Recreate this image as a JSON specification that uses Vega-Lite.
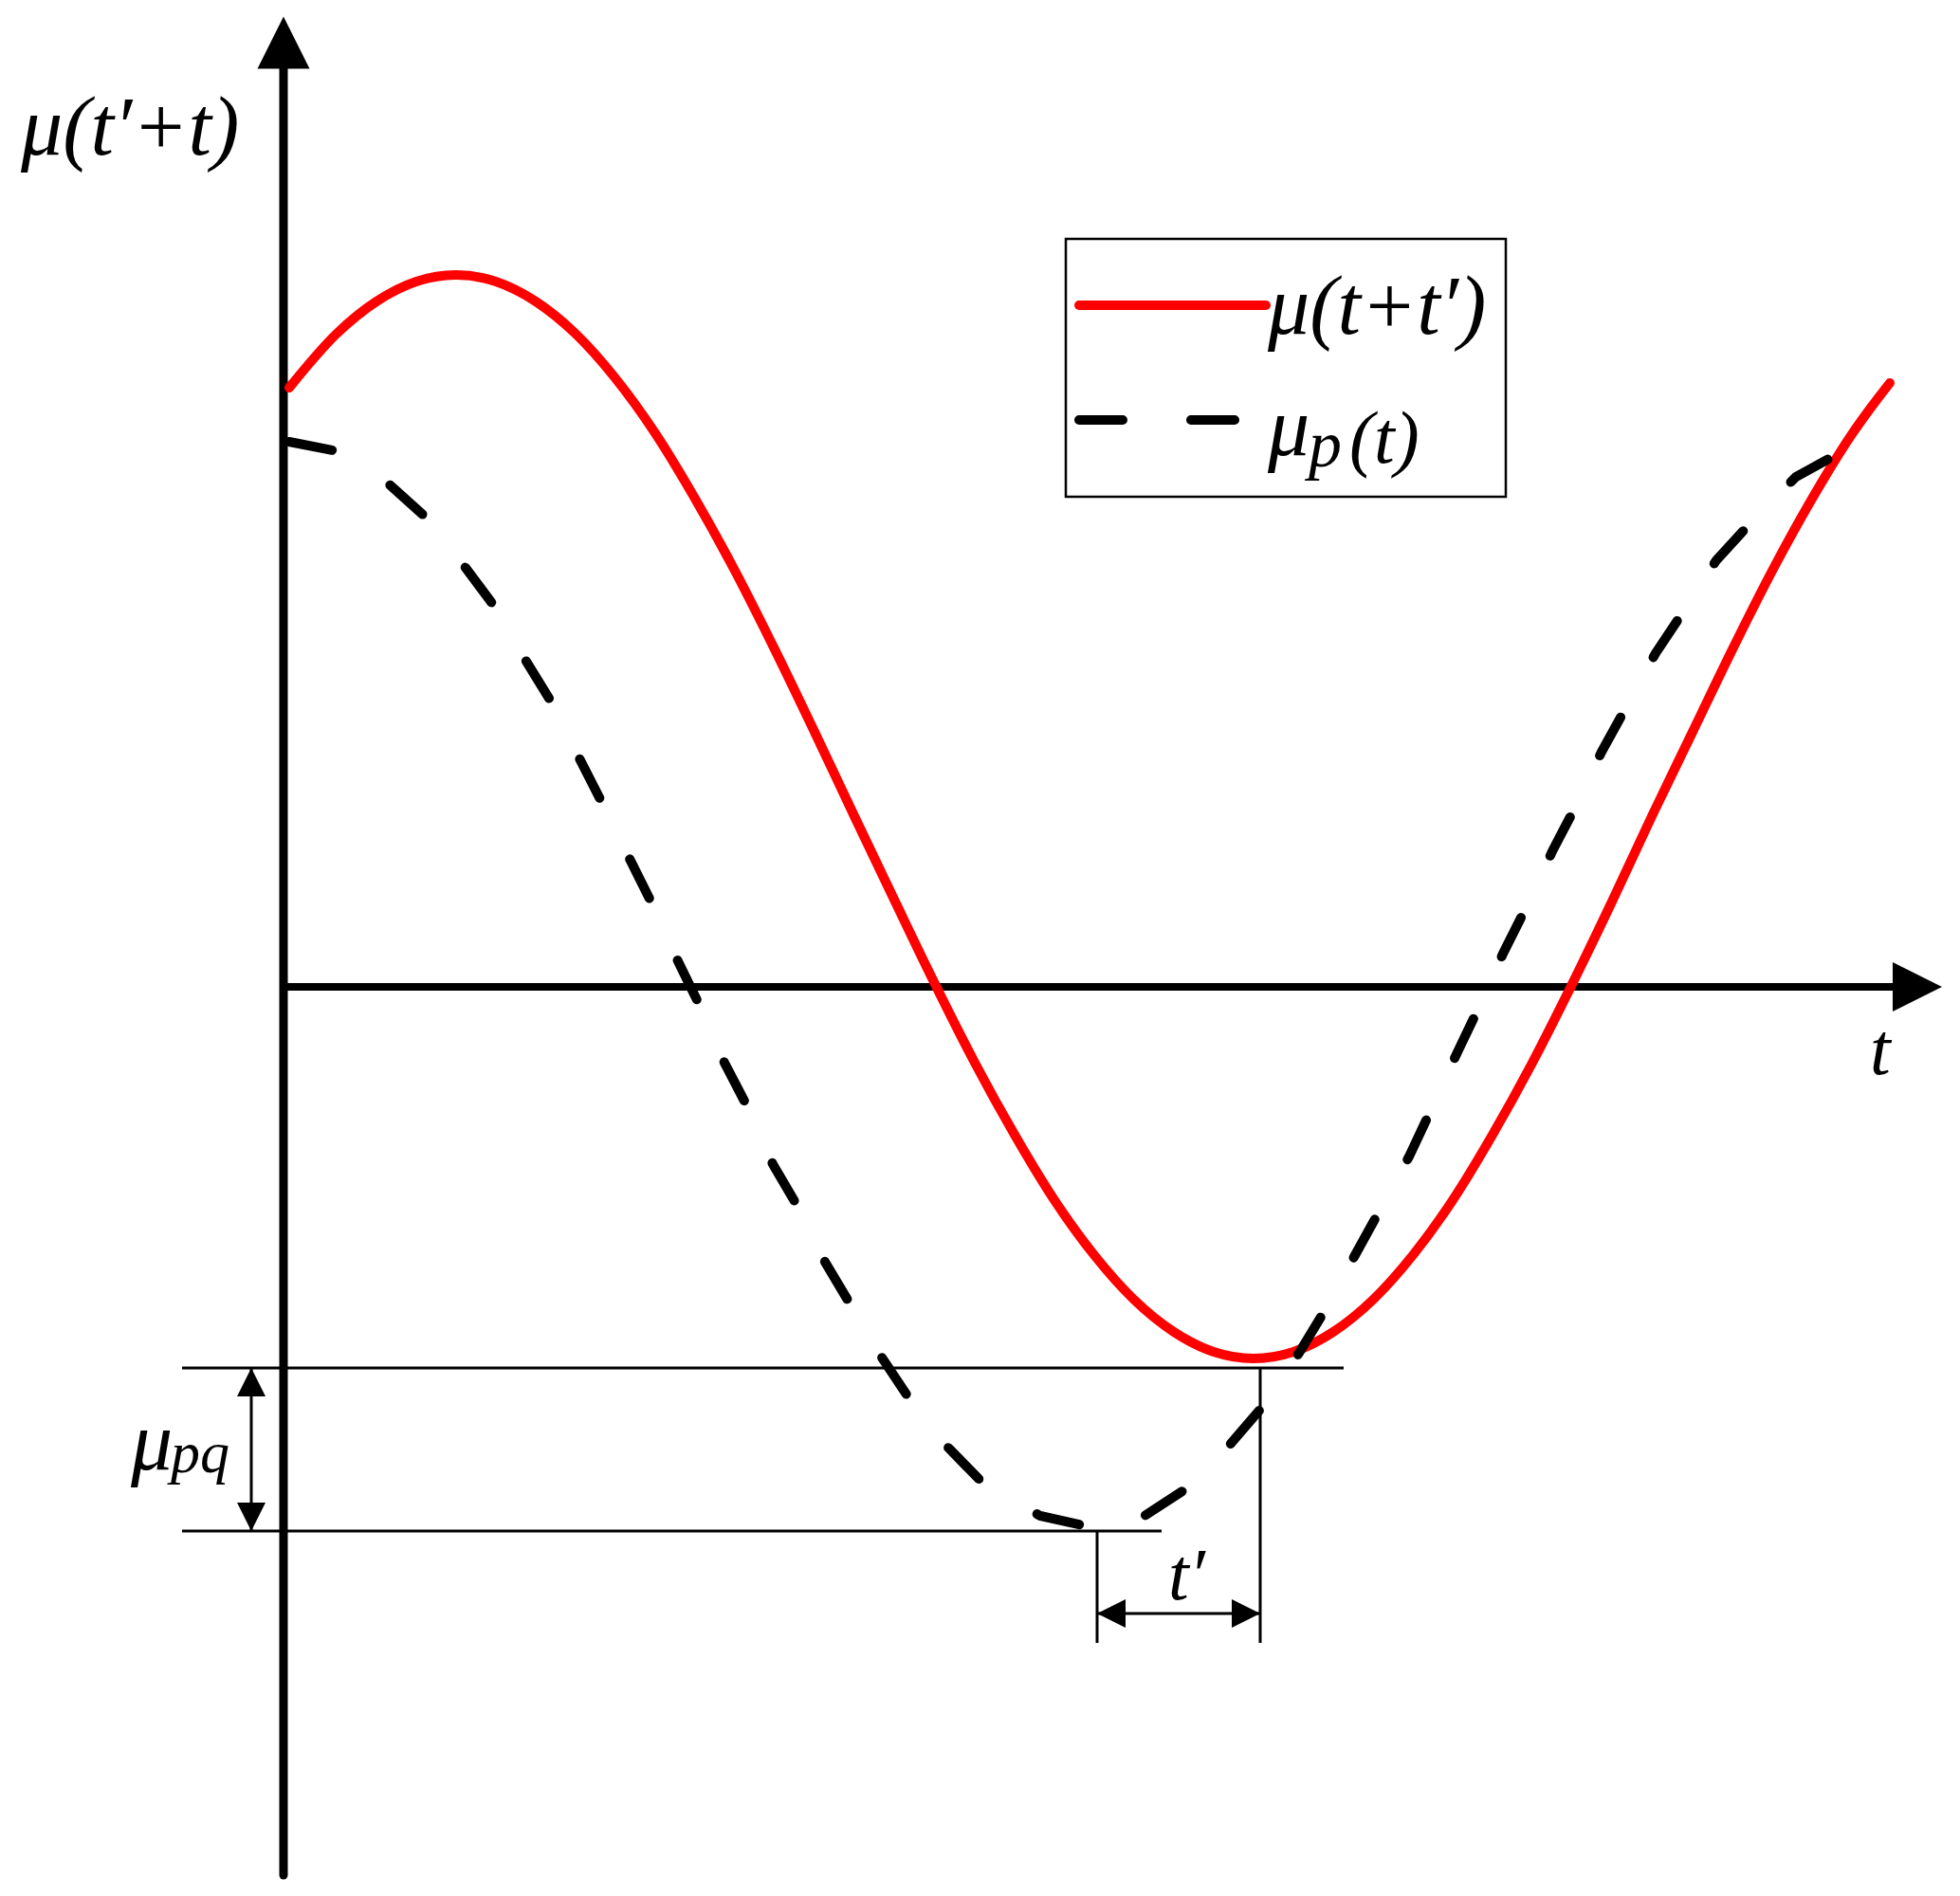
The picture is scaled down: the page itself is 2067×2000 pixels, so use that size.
{
  "$schema": "https://vega.github.io/schema/vega-lite/v6.json",
  "width": 2067,
  "height": 2000,
  "autosize": {"type": "fit", "contains": "padding"},
  "padding": 0,
  "background": "white",
  "config": {"view": {"stroke": null}},
  "datasets": {
    "red": [
      {"t": 6, "mu": 632}, {"t": 56, "mu": 689}, {"t": 98, "mu": 723}, {"t": 140, "mu": 744},
      {"t": 182, "mu": 751}, {"t": 224, "mu": 744}, {"t": 266, "mu": 723}, {"t": 308, "mu": 689},
      {"t": 350, "mu": 642}, {"t": 392, "mu": 584}, {"t": 434, "mu": 515}, {"t": 476, "mu": 439},
      {"t": 518, "mu": 356}, {"t": 560, "mu": 269}, {"t": 602, "mu": 180}, {"t": 645, "mu": 90},
      {"t": 687, "mu": 3}, {"t": 729, "mu": -80}, {"t": 771, "mu": -156}, {"t": 813, "mu": -225},
      {"t": 855, "mu": -283}, {"t": 897, "mu": -330}, {"t": 939, "mu": -364}, {"t": 981, "mu": -385},
      {"t": 1023, "mu": -392}, {"t": 1065, "mu": -385}, {"t": 1107, "mu": -364}, {"t": 1149, "mu": -330},
      {"t": 1191, "mu": -283}, {"t": 1233, "mu": -225}, {"t": 1275, "mu": -156}, {"t": 1317, "mu": -80},
      {"t": 1359, "mu": 3}, {"t": 1401, "mu": 90}, {"t": 1443, "mu": 180}, {"t": 1486, "mu": 269},
      {"t": 1528, "mu": 356}, {"t": 1570, "mu": 439}, {"t": 1612, "mu": 515}, {"t": 1654, "mu": 583},
      {"t": 1674, "mu": 611}, {"t": 1694, "mu": 637}
    ],
    "dashed": [
      {"t": 6, "mu": 575}, {"t": 57, "mu": 565}, {"t": 106, "mu": 535}, {"t": 147, "mu": 498},
      {"t": 189, "mu": 446}, {"t": 222, "mu": 402}, {"t": 255, "mu": 345}, {"t": 284, "mu": 298},
      {"t": 312, "mu": 241}, {"t": 337, "mu": 192}, {"t": 365, "mu": 135}, {"t": 390, "mu": 85},
      {"t": 416, "mu": 27}, {"t": 440, "mu": -22}, {"t": 465, "mu": -80}, {"t": 490, "mu": -128},
      {"t": 516, "mu": -187}, {"t": 543, "mu": -233}, {"t": 571, "mu": -290}, {"t": 599, "mu": -337},
      {"t": 631, "mu": -391}, {"t": 661, "mu": -436}, {"t": 700, "mu": -485}, {"t": 738, "mu": -524},
      {"t": 798, "mu": -558}, {"t": 856, "mu": -571}, {"t": 908, "mu": -558}, {"t": 951, "mu": -530},
      {"t": 997, "mu": -484}, {"t": 1035, "mu": -440}, {"t": 1071, "mu": -386}, {"t": 1099, "mu": -340},
      {"t": 1130, "mu": -283}, {"t": 1157, "mu": -234}, {"t": 1187, "mu": -179}, {"t": 1210, "mu": -130},
      {"t": 1237, "mu": -71}, {"t": 1260, "mu": -23}, {"t": 1286, "mu": 35}, {"t": 1311, "mu": 85},
      {"t": 1338, "mu": 143}, {"t": 1362, "mu": 189}, {"t": 1390, "mu": 248}, {"t": 1416, "mu": 295},
      {"t": 1447, "mu": 352}, {"t": 1475, "mu": 394}, {"t": 1511, "mu": 450}, {"t": 1544, "mu": 486},
      {"t": 1595, "mu": 538}, {"t": 1644, "mu": 565}
    ],
    "hthin": [
      {"t": -107, "t2": 1118, "mu": -402},
      {"t": -107, "t2": 926, "mu": -574},
      {"t": 858, "t2": 1030, "mu": -661}
    ],
    "vthin": [
      {"t": 858, "mu": -574, "mu2": -692},
      {"t": 1030, "mu": -402, "mu2": -692},
      {"t": -34, "mu": -402, "mu2": -574}
    ],
    "vaxis": [{"t": 0, "mu": 969, "mu2": -937}],
    "haxis": [{"t": 0, "t2": 1698, "mu": 0}],
    "arrowUp": [{"t": 0, "mu": 996}],
    "arrowRight": [{"t": 1723, "mu": 0}],
    "smallLeft": [{"t": 873, "mu": -661}],
    "smallRight": [{"t": 1015, "mu": -661}],
    "smallUp": [{"t": -34, "mu": -417}],
    "smallDown": [{"t": -34, "mu": -559}],
    "legendBox": [{"t": 825, "t2": 1289, "mu": 789, "mu2": 517}],
    "legendRed": [{"t": 839, "t2": 1036, "mu": 719}],
    "legendDash": [{"t": 839, "t2": 1003, "mu": 598}],
    "bigText": [
      {"t": -277, "mu": 878, "label": "μ(t′+t)"},
      {"t": 1038, "mu": 689, "label": "μ(t+t′)"},
      {"t": 1038, "mu": 561, "label": "μ"},
      {"t": -161, "mu": -509, "label": "μ"}
    ],
    "midText": [
      {"t": 1124, "mu": 553, "label": "(t)"},
      {"t": 933, "mu": -646, "label": "t′"},
      {"t": 1673, "mu": -92, "label": "t"}
    ],
    "subText": [
      {"t": -119, "mu": -512, "label": "pq"}
    ],
    "subTextLegend": [
      {"t": 1081, "mu": 549, "label": "p"}
    ]
  },
  "encoding": {
    "x": {"field": "t", "type": "quantitative", "scale": {"domain": [-299, 1768], "nice": false, "zero": false}, "axis": null},
    "y": {"field": "mu", "type": "quantitative", "scale": {"domain": [-959, 1041], "nice": false, "zero": false}, "axis": null}
  },
  "layer": [
    {"data": {"name": "hthin"}, "mark": {"type": "rule", "color": "black", "strokeWidth": 3}, "encoding": {"x2": {"field": "t2"}}},
    {"data": {"name": "vthin"}, "mark": {"type": "rule", "color": "black", "strokeWidth": 3}, "encoding": {"y2": {"field": "mu2"}}},
    {"data": {"name": "vaxis"}, "mark": {"type": "rule", "color": "black", "strokeWidth": 9, "strokeCap": "round"}, "encoding": {"y2": {"field": "mu2"}}},
    {"data": {"name": "haxis"}, "mark": {"type": "rule", "color": "black", "strokeWidth": 8}, "encoding": {"x2": {"field": "t2"}}},
    {"data": {"name": "arrowUp"}, "mark": {"type": "point", "shape": "M0,-1L1,1L-1,1Z", "size": 3025, "filled": true, "color": "black", "opacity": 1, "strokeWidth": 0}},
    {"data": {"name": "arrowRight"}, "mark": {"type": "point", "shape": "M1,0L-1,-1L-1,1Z", "size": 2704, "filled": true, "color": "black", "opacity": 1, "strokeWidth": 0}},
    {"data": {"name": "smallLeft"}, "mark": {"type": "point", "shape": "M-1,0L1,-1L1,1Z", "size": 900, "filled": true, "color": "black", "opacity": 1, "strokeWidth": 0}},
    {"data": {"name": "smallRight"}, "mark": {"type": "point", "shape": "M1,0L-1,-1L-1,1Z", "size": 900, "filled": true, "color": "black", "opacity": 1, "strokeWidth": 0}},
    {"data": {"name": "smallUp"}, "mark": {"type": "point", "shape": "M0,-1L1,1L-1,1Z", "size": 900, "filled": true, "color": "black", "opacity": 1, "strokeWidth": 0}},
    {"data": {"name": "smallDown"}, "mark": {"type": "point", "shape": "M0,1L1,-1L-1,-1Z", "size": 900, "filled": true, "color": "black", "opacity": 1, "strokeWidth": 0}},
    {"data": {"name": "red"}, "mark": {"type": "line", "color": "#ff0000", "strokeWidth": 10, "interpolate": "monotone", "strokeCap": "round"}},
    {"data": {"name": "dashed"}, "mark": {"type": "line", "color": "black", "strokeWidth": 10, "strokeDash": [46, 72], "strokeCap": "round"}},
    {"data": {"name": "legendBox"}, "mark": {"type": "rect", "fill": null, "fillOpacity": 0, "stroke": "black", "strokeWidth": 2.5}, "encoding": {"x2": {"field": "t2"}, "y2": {"field": "mu2"}}},
    {"data": {"name": "legendRed"}, "mark": {"type": "rule", "color": "#ff0000", "strokeWidth": 10, "strokeCap": "round"}, "encoding": {"x2": {"field": "t2"}}},
    {"data": {"name": "legendDash"}, "mark": {"type": "rule", "color": "black", "strokeWidth": 10, "strokeCap": "round", "strokeDash": [46, 72]}, "encoding": {"x2": {"field": "t2"}}},
    {"data": {"name": "bigText"}, "mark": {"type": "text", "font": "Liberation Serif", "fontStyle": "italic", "fontSize": 88, "align": "left", "baseline": "alphabetic", "color": "black"}, "encoding": {"text": {"field": "label"}}},
    {"data": {"name": "midText"}, "mark": {"type": "text", "font": "Liberation Serif", "fontStyle": "italic", "fontSize": 78, "align": "left", "baseline": "alphabetic", "color": "black"}, "encoding": {"text": {"field": "label"}}},
    {"data": {"name": "subText"}, "mark": {"type": "text", "font": "Liberation Serif", "fontStyle": "italic", "fontSize": 62, "align": "left", "baseline": "alphabetic", "color": "black"}, "encoding": {"text": {"field": "label"}}},
    {"data": {"name": "subTextLegend"}, "mark": {"type": "text", "font": "Liberation Serif", "fontStyle": "italic", "fontSize": 70, "align": "left", "baseline": "alphabetic", "color": "black"}, "encoding": {"text": {"field": "label"}}}
  ]
}
